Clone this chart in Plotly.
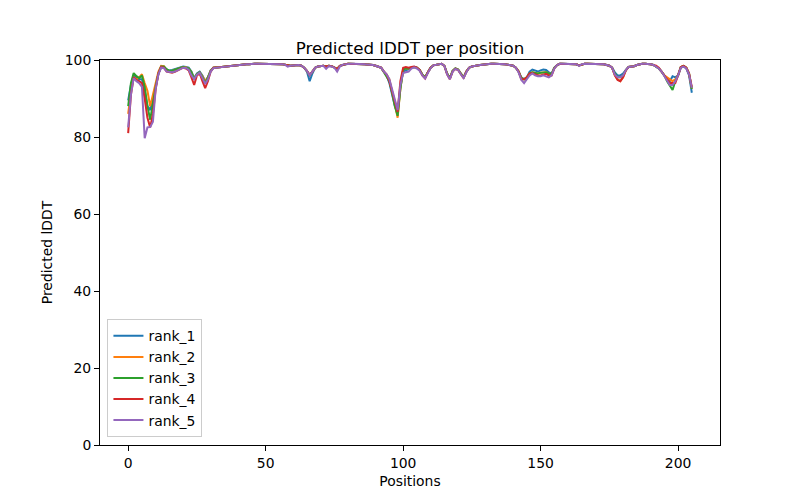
import plotly.graph_objects as go

positions = list(range(206))

rank_1 = [
89.5, 93.5, 96.0, 95.5, 95.0, 95.0, 92.0, 88.0, 87.0, 90.0,
93.5, 96.5, 98.3, 98.2, 97.5, 97.3, 97.4, 97.6, 97.9, 98.2,
98.3, 98.2, 98.0, 97.0, 95.3, 96.5, 97.0, 96.0, 94.5, 95.5,
97.3, 98.0, 98.0, 98.1, 98.2, 98.3, 98.3, 98.4, 98.5, 98.6,
98.7, 98.8, 98.8, 98.9, 98.9, 99.0, 99.0, 99.0, 99.0, 99.0,
99.0, 99.0, 99.0, 99.0, 99.0, 98.9, 98.9, 98.8, 98.6, 98.5,
98.6, 98.7, 98.7, 98.5, 98.0, 97.0, 94.5, 96.5, 98.0, 98.3,
98.4, 98.5, 98.2, 98.5, 98.4, 98.0, 97.6, 98.5, 98.8, 98.9,
99.0, 99.0, 99.0, 99.0, 99.0, 98.9, 98.9, 98.8, 98.8, 98.7,
98.5, 98.3, 98.0, 97.0, 96.0, 94.0, 91.0, 88.0, 86.0, 93.0,
97.0, 97.3, 97.5, 98.0, 98.2, 98.0, 97.4, 96.2, 95.5, 96.8,
98.0, 98.6, 98.8, 99.0, 99.0, 98.5, 96.5, 95.3, 97.2, 97.8,
97.5, 96.5, 95.5, 97.0, 98.0, 98.3, 98.5, 98.6, 98.7, 98.8,
98.9, 98.9, 99.0, 99.0, 99.0, 99.0, 99.0, 98.9, 98.8, 98.7,
98.5, 98.0, 97.0, 95.5, 95.0, 95.5, 97.0, 97.5, 97.2, 97.0,
97.3, 97.5, 97.4, 96.8, 96.5, 98.0, 98.7, 99.0, 99.0, 99.0,
99.0, 99.0, 99.0, 98.9, 98.6, 98.9, 99.0, 99.0, 99.0, 99.0,
99.0, 99.0, 98.9, 98.9, 98.7, 98.5, 98.0, 96.8, 96.0, 96.0,
96.5, 97.5, 98.2, 98.3, 98.4, 98.7, 98.9, 99.0, 99.0, 99.0,
98.9, 98.7, 98.3, 97.8, 97.0, 96.0, 95.0, 94.5, 95.8, 95.5,
96.0, 98.0, 98.3, 97.8, 96.0, 91.5]

rank_2 = [
86.0, 92.0, 95.5, 95.0, 95.5, 96.3, 94.0, 92.0, 88.0, 91.0,
94.5, 97.0, 98.5, 98.4, 97.2, 97.0, 97.2, 97.5, 97.8, 98.1,
98.2, 98.1, 97.8, 96.8, 95.0, 96.3, 96.8, 95.8, 94.5, 95.5,
97.2, 98.0, 98.0, 98.1, 98.2, 98.3, 98.3, 98.4, 98.5, 98.6,
98.7, 98.8, 98.8, 98.9, 98.9, 99.0, 99.0, 99.0, 99.0, 99.0,
99.0, 99.0, 99.0, 99.0, 99.0, 98.9, 98.9, 98.8, 98.6, 98.5,
98.6, 98.7, 98.7, 98.5, 98.0, 97.2, 96.0, 97.0, 98.0, 98.3,
98.4, 98.5, 98.3, 98.5, 98.4, 98.0, 97.7, 98.5, 98.8, 98.9,
99.0, 99.0, 99.0, 99.0, 99.0, 98.9, 98.9, 98.8, 98.8, 98.7,
98.5, 98.3, 98.0, 97.0, 96.2, 95.0, 92.0, 88.5, 85.0, 92.5,
97.5, 97.8, 97.8, 98.1, 98.2, 98.0, 97.4, 96.2, 95.5, 96.8,
98.0, 98.6, 98.8, 99.0, 99.0, 98.5, 96.5, 95.3, 97.2, 97.8,
97.5, 96.5, 95.5, 97.0, 98.0, 98.3, 98.5, 98.6, 98.7, 98.8,
98.9, 98.9, 99.0, 99.0, 99.0, 99.0, 99.0, 98.9, 98.8, 98.7,
98.5, 98.0, 97.0, 95.3, 95.0, 95.5, 96.5, 96.8, 96.6, 96.5,
96.7, 96.8, 96.8, 96.5, 96.3, 98.0, 98.7, 99.0, 99.0, 99.0,
99.0, 99.0, 99.0, 98.9, 98.6, 98.9, 99.0, 99.0, 99.0, 99.0,
99.0, 99.0, 98.9, 98.9, 98.7, 98.5, 98.0, 96.0, 95.0, 94.5,
95.5, 97.3, 98.2, 98.3, 98.4, 98.7, 98.9, 99.0, 99.0, 99.0,
98.9, 98.7, 98.3, 97.8, 97.0, 96.0, 95.5, 95.0, 94.5, 95.0,
96.0, 98.2, 98.5, 98.0, 96.5, 92.5]

rank_3 = [
88.0, 94.0, 96.6, 95.8, 95.3, 96.0, 93.0, 88.0, 84.5, 89.0,
93.0, 96.5, 98.3, 98.3, 97.6, 97.2, 97.2, 97.5, 97.8, 98.1,
98.2, 98.0, 97.8, 96.8, 95.0, 96.3, 96.8, 95.5, 94.0, 95.5,
97.2, 98.0, 98.0, 98.1, 98.2, 98.3, 98.3, 98.4, 98.5, 98.6,
98.7, 98.8, 98.8, 98.9, 98.9, 99.0, 99.0, 99.0, 99.0, 99.0,
99.0, 99.0, 99.0, 99.0, 99.0, 98.9, 98.9, 98.8, 98.6, 98.5,
98.6, 98.7, 98.7, 98.5, 98.0, 97.2, 96.0, 97.0, 98.0, 98.3,
98.4, 98.5, 98.3, 98.5, 98.4, 98.0, 97.7, 98.5, 98.8, 98.9,
99.0, 99.0, 99.0, 99.0, 99.0, 98.9, 98.9, 98.8, 98.8, 98.7,
98.5, 98.3, 98.0, 96.8, 95.8, 94.5, 91.5, 88.0, 85.5, 92.5,
97.5, 97.8, 97.8, 98.1, 98.2, 98.0, 97.4, 96.2, 95.5, 96.8,
98.0, 98.6, 98.8, 99.0, 99.0, 98.5, 96.5, 95.3, 97.2, 97.8,
97.5, 96.5, 95.5, 97.0, 98.0, 98.3, 98.5, 98.6, 98.7, 98.8,
98.9, 98.9, 99.0, 99.0, 99.0, 99.0, 99.0, 98.9, 98.8, 98.7,
98.5, 98.0, 97.0, 95.3, 95.0, 95.5, 96.5, 96.8, 96.6, 96.5,
96.7, 96.8, 96.8, 96.5, 96.3, 98.0, 98.7, 99.0, 99.0, 99.0,
99.0, 99.0, 99.0, 98.9, 98.6, 98.9, 99.0, 99.0, 99.0, 99.0,
99.0, 99.0, 98.9, 98.9, 98.7, 98.5, 98.0, 96.5, 95.5, 95.5,
96.0, 97.4, 98.2, 98.3, 98.4, 98.7, 98.9, 99.0, 99.0, 99.0,
98.9, 98.7, 98.3, 97.8, 97.0, 96.0, 94.5, 93.5, 92.2, 94.5,
96.0, 98.2, 98.5, 98.0, 96.5, 92.5]

rank_4 = [
81.0, 91.0, 95.5, 94.8, 94.5, 94.0, 90.0, 85.0, 82.5, 86.0,
92.5, 96.5, 98.2, 98.0, 97.0, 96.8, 96.7, 96.9, 97.3, 97.8,
98.0, 97.8, 97.3, 95.5, 93.5, 96.0, 96.5, 94.5, 92.7, 94.5,
97.0, 98.0, 98.0, 98.1, 98.2, 98.3, 98.3, 98.4, 98.5, 98.6,
98.7, 98.8, 98.8, 98.9, 98.9, 99.0, 99.0, 99.0, 99.0, 99.0,
99.0, 99.0, 99.0, 99.0, 99.0, 98.9, 98.9, 98.8, 98.6, 98.5,
98.6, 98.7, 98.7, 98.5, 98.0, 97.2, 96.2, 97.0, 98.0, 98.3,
98.4, 98.5, 98.3, 98.5, 98.4, 98.0, 97.7, 98.5, 98.8, 98.9,
99.0, 99.0, 99.0, 99.0, 99.0, 98.9, 98.9, 98.8, 98.8, 98.7,
98.5, 98.3, 98.0, 97.0, 96.2, 94.5, 92.0, 89.0, 86.5, 94.5,
98.0, 98.2, 98.0, 98.2, 98.3, 98.0, 97.4, 96.0, 95.2, 96.8,
98.0, 98.6, 98.8, 99.0, 99.0, 98.5, 96.3, 95.0, 97.0, 97.7,
97.4, 96.3, 95.3, 97.0, 98.0, 98.3, 98.5, 98.6, 98.7, 98.8,
98.9, 98.9, 99.0, 99.0, 99.0, 99.0, 99.0, 98.9, 98.8, 98.7,
98.5, 98.0, 97.0, 95.0, 95.0, 95.5, 96.5, 96.6, 96.2, 96.0,
96.0, 96.3, 96.4, 96.0, 96.0, 97.8, 98.7, 99.0, 99.0, 99.0,
99.0, 99.0, 99.0, 98.9, 98.6, 98.9, 99.0, 99.0, 99.0, 99.0,
99.0, 99.0, 98.9, 98.9, 98.7, 98.5, 98.0, 96.0, 94.8, 94.5,
95.5, 97.3, 98.2, 98.3, 98.4, 98.7, 98.9, 99.0, 99.0, 99.0,
98.9, 98.7, 98.5, 98.0, 97.0, 96.0, 95.0, 94.0, 94.0, 94.0,
96.0, 98.2, 98.5, 98.0, 96.5, 93.0]

rank_5 = [
82.5, 91.0, 95.3, 94.5, 94.0, 93.0, 79.7, 82.5, 82.6, 84.0,
92.5, 96.3, 98.0, 97.9, 97.0, 96.8, 96.8, 97.0, 97.4, 97.8,
98.0, 97.9, 97.5, 96.0, 95.0, 96.2, 96.7, 95.3, 93.8, 95.0,
97.0, 97.9, 98.0, 98.1, 98.2, 98.3, 98.3, 98.4, 98.5, 98.6,
98.7, 98.8, 98.8, 98.9, 98.9, 99.0, 99.0, 99.0, 99.0, 99.0,
99.0, 99.0, 99.0, 99.0, 99.0, 98.9, 98.9, 98.8, 98.3, 98.5,
98.6, 98.7, 98.7, 98.5, 98.0, 97.2, 96.0, 97.0, 98.0, 98.3,
98.4, 98.5, 97.7, 98.4, 98.3, 98.0, 97.0, 98.3, 98.8, 98.9,
99.0, 99.0, 99.0, 99.0, 99.0, 98.9, 98.9, 98.8, 98.8, 98.7,
98.5, 98.3, 98.0, 97.0, 96.3, 95.0, 92.5, 89.5, 87.0, 93.5,
96.6, 96.8, 97.0, 97.8, 98.1, 97.8, 97.2, 96.0, 95.2, 96.6,
97.9, 98.6, 98.8, 99.0, 99.0, 98.5, 96.3, 95.0, 97.0, 97.7,
97.4, 96.3, 95.3, 96.8, 98.0, 98.3, 98.5, 98.6, 98.7, 98.8,
98.9, 98.9, 99.0, 99.0, 99.0, 99.0, 99.0, 98.9, 98.8, 98.7,
98.5, 98.0, 96.8, 94.8, 94.0, 95.0, 96.0, 96.5, 96.0, 95.8,
95.8, 96.0, 95.7, 95.5, 96.0, 97.8, 98.7, 99.0, 99.0, 99.0,
99.0, 99.0, 99.0, 98.9, 98.5, 98.9, 99.0, 99.0, 99.0, 99.0,
99.0, 99.0, 98.9, 98.9, 98.7, 98.5, 98.0, 96.2, 95.5, 95.5,
96.0, 97.4, 98.2, 98.3, 98.4, 98.7, 98.9, 99.0, 99.0, 99.0,
98.9, 98.7, 98.3, 97.8, 97.0, 95.8, 94.5, 93.5, 93.5, 94.5,
96.0, 98.0, 98.3, 97.8, 96.3, 92.8]

series_names = ["rank_1", "rank_2", "rank_3", "rank_4", "rank_5"]
series_values = [rank_1, rank_2, rank_3, rank_4, rank_5]
colors = ["#1f77b4", "#ff7f0e", "#2ca02c", "#d62728", "#9467bd"]
x_ticks = [0, 50, 100, 150, 200]
y_ticks = [0, 20, 40, 60, 80, 100]

fig = go.Figure()
for name, vals, c in zip(series_names, series_values, colors):
    fig.add_trace(go.Scatter(x=positions, y=vals, mode="lines", name=name,
                             line=dict(color=c, width=2)))

axis_common = dict(showline=True, linecolor="black", linewidth=1, mirror=True,
                   ticks="outside", ticklen=5, tickwidth=1, tickcolor="black",
                   showgrid=False, zeroline=False,
                   tickfont=dict(size=13.9, color="black"))

# page body has an 8px default margin, so margins are shifted to compensate
fig.update_layout(
    width=800, height=500,
    margin=dict(l=92, r=88, t=52, b=63),
    paper_bgcolor="white", plot_bgcolor="white",
    font=dict(family="DejaVu Sans", color="black"),
    title=dict(text="Predicted lDDT per position", x=0.5, xanchor="center",
               xref="paper", y=1, yref="paper", yanchor="bottom",
               pad=dict(b=6), font=dict(size=16.7)),
    xaxis=dict(range=[-10.25, 215.25], tickvals=x_ticks,
               title=dict(text="Positions", font=dict(size=13.9), standoff=6),
               **axis_common),
    yaxis=dict(range=[0, 100], tickvals=y_ticks,
               title=dict(text="Predicted lDDT", font=dict(size=13.9), standoff=8),
               **axis_common),
    legend=dict(x=0.012, y=0.02, xanchor="left", yanchor="bottom",
                bordercolor="#cccccc", borderwidth=1,
                bgcolor="rgba(255,255,255,0.8)",
                font=dict(size=13.9), tracegroupgap=0, itemwidth=30),
    showlegend=True,
)

fig.write_html("out.html")
